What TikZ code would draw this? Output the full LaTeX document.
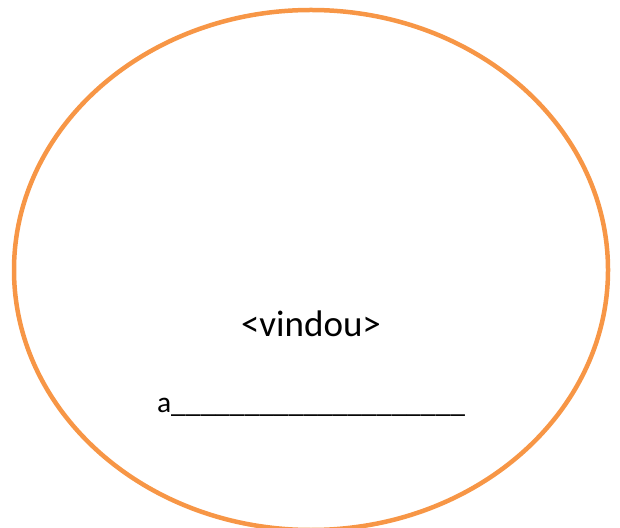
\documentclass[tikz,border=0pt]{standalone}
\usepackage{fontspec}
\setmainfont{Carlito}
\usetikzlibrary{shapes.geometric}
\definecolor{ovalorange}{HTML}{F79646}
\begin{document}
\begin{tikzpicture}[
  x=1pt, y=1pt,
  oval/.style={draw=ovalorange, line width=4.5pt},
  word/.style={inner sep=0pt, anchor=base, font=\fontsize{37}{40}\selectfont},
  blank/.style={inner sep=0pt, anchor=base, font=\fontsize{29.5}{32}\selectfont}
]
\useasboundingbox (0,0) rectangle (620,527);
\node[oval, ellipse, minimum width=594, minimum height=520, inner sep=0pt] (oval) at (311,257) {};
\node[word] (name) at (311,190) {<vindou>};
\node[blank] (line) at (311,114) {a\_\_\_\_\_\_\_\_\_\_\_\_\_\_\_\_\_\_\_\_};
\end{tikzpicture}
\end{document}
